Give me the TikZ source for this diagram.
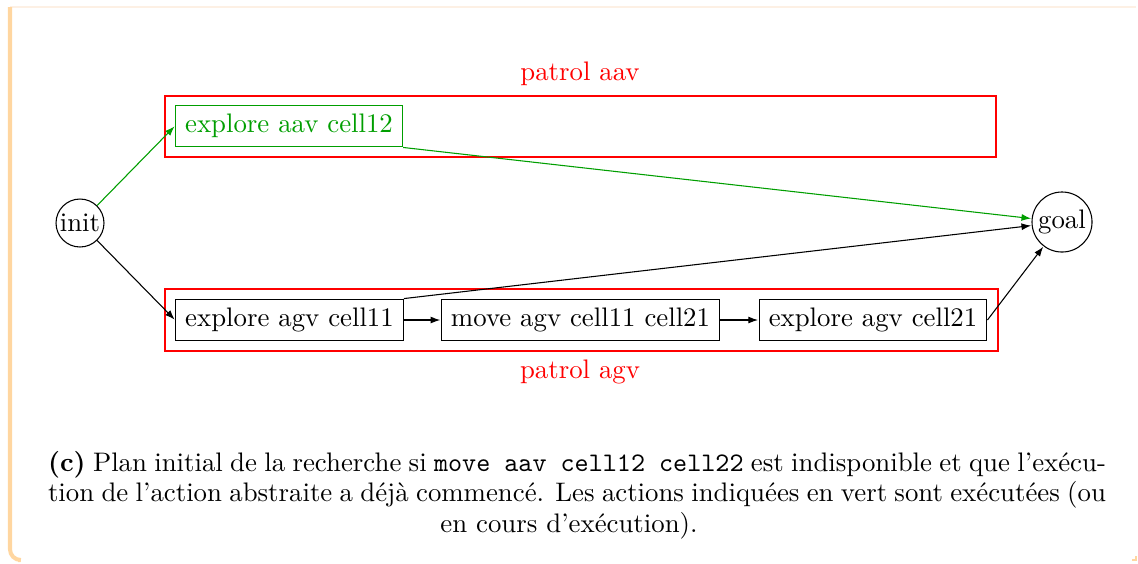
\documentclass[tikz,border=0pt]{standalone}
\usetikzlibrary{arrows.meta}
\definecolor{agreen}{RGB}{0,158,0}
\definecolor{fpeach}{RGB}{255,214,160}
\definecolor{ftop}{RGB}{253,240,228}
\begin{document}
\begin{tikzpicture}[x=0.3731pt,y=-0.3731pt,
  act/.style={draw,rectangle,inner xsep=3.6pt,inner ysep=0pt,minimum height=15.6pt,text height=6.9pt,text depth=1.9pt,line width=0.4pt},
  state/.style={draw,circle,inner sep=0.5pt,line width=0.4pt},
  cluster/.style={draw=red,line width=0.4pt},
  clab/.style={text=red,inner sep=0pt},
  edge/.style={-{Latex[length=3.6pt,width=2.6pt]},line width=0.4pt,shorten >=0.2pt},
  capline/.style={anchor=base,inner sep=0pt}]
\useasboundingbox (0,0) rectangle (1138,563);
% frame
\draw[ftop,line width=0.4pt] (10,7) -- (1136,7);
\draw[fpeach,line width=1.5pt,rounded corners=4pt] (10,7) -- (10,560) -- (18,560);
\draw[fpeach,line width=0.6pt] (1136,556) -- (1136,560) -- (1132,560);
% clusters
\draw[cluster] (165,96) rectangle (996,157);
\draw[cluster] (165,289) rectangle (998,351);
\node[clab] (laav) at (580,74) {patrol aav};
\node[clab] (lagv) at (580,372) {patrol agv};
% nodes
\node[state,minimum size=17.9pt] (init) at (80,223) {init};
\node[state,minimum size=22.4pt] (goal) at (1062,222) {goal};
\node[act,draw=agreen,text=agreen] (e12) at (289,126) {explore aav cell12};
\node[act] (e11) at (289.5,320) {explore agv cell11};
\node[act] (m) at (580.5,320) {move agv cell11 cell21};
\node[act] (e21) at (873,320) {explore agv cell21};
% edges
\draw[edge,agreen] (init) -- (e12.west);
\draw[edge] (init) -- (e11.west);
\draw[edge,agreen] (e12.south east) -- (goal);
\draw[edge] (e11.north east) -- (goal);
\draw[edge] (e11) -- (m);
\draw[edge] (m) -- (e21);
\draw[edge] (e21.east) -- (goal);
% caption
\node[capline] (c1) at (577,471) {\makebox[394.7pt][s]{\textbf{(c)} Plan initial de la recherche si \texttt{move aav cell12 cell22} est indisponible et que l'exécu-}};
\node[capline] (c2) at (577,501) {\makebox[394.7pt][s]{tion de l'action abstraite a déjà commencé. Les actions indiquées en vert sont exécutées (ou}};
\node[capline] (c3) at (569,532) {en cours d'exécution).};
\end{tikzpicture}
\end{document}
